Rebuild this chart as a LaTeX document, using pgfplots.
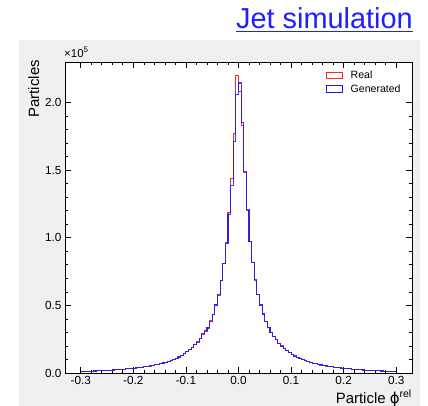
\documentclass[border=0pt]{standalone}
\usepackage{fontspec}
\setmainfont{Liberation Sans}
\newfontfamily\dejavu{DejaVu Sans}
\usepackage{pgfplots}
\pgfplotsset{compat=1.18}
\usetikzlibrary{calc}
\definecolor{panel}{rgb}{0.94,0.94,0.95}
\definecolor{titleblue}{rgb}{0.12,0.12,1}
\definecolor{hred}{rgb}{1,0.15,0.15}
\definecolor{hblue}{rgb}{0.1,0.1,1}

\pgfplotstableread{
x y
-0.300 0.010
-0.295 0.011
-0.290 0.012
-0.285 0.013
-0.280 0.014
-0.275 0.015
-0.270 0.016
-0.265 0.017
-0.260 0.018
-0.255 0.019
-0.250 0.020
-0.245 0.021
-0.240 0.022
-0.235 0.024
-0.230 0.025
-0.225 0.027
-0.220 0.028
-0.215 0.030
-0.210 0.032
-0.205 0.034
-0.200 0.036
-0.195 0.038
-0.190 0.041
-0.185 0.043
-0.180 0.046
-0.175 0.049
-0.170 0.052
-0.165 0.056
-0.160 0.060
-0.155 0.064
-0.150 0.068
-0.145 0.074
-0.140 0.080
-0.135 0.086
-0.130 0.093
-0.125 0.100
-0.120 0.108
-0.115 0.117
-0.110 0.130
-0.105 0.143
-0.100 0.157
-0.095 0.172
-0.090 0.190
-0.085 0.210
-0.080 0.232
-0.075 0.255
-0.070 0.285
-0.065 0.310
-0.060 0.337
-0.055 0.386
-0.050 0.435
-0.045 0.507
-0.040 0.576
-0.035 0.686
-0.030 0.810
-0.025 0.965
-0.020 1.185
-0.015 1.440
-0.010 1.770
-0.005 2.200
0.000 2.080
0.005 1.830
0.010 1.480
0.015 1.200
0.020 0.970
0.025 0.820
0.030 0.686
0.035 0.580
0.040 0.500
0.045 0.433
0.050 0.380
0.055 0.334
0.060 0.300
0.065 0.270
0.070 0.245
0.075 0.220
0.080 0.200
0.085 0.180
0.090 0.165
0.095 0.150
0.100 0.137
0.105 0.125
0.110 0.115
0.115 0.106
0.120 0.098
0.125 0.091
0.130 0.085
0.135 0.079
0.140 0.073
0.145 0.068
0.150 0.064
0.155 0.060
0.160 0.056
0.165 0.052
0.170 0.049
0.175 0.046
0.180 0.043
0.185 0.041
0.190 0.038
0.195 0.036
0.200 0.034
0.205 0.032
0.210 0.030
0.215 0.028
0.220 0.027
0.225 0.025
0.230 0.024
0.235 0.022
0.240 0.021
0.245 0.020
0.250 0.019
0.255 0.018
0.260 0.017
0.265 0.016
0.270 0.015
0.275 0.014
0.280 0.013
0.285 0.012
0.290 0.011
0.295 0.010
0.300 0.010
}\realdata

\pgfplotstableread{
x y
-0.300 0.010
-0.295 0.011
-0.290 0.012
-0.285 0.013
-0.280 0.014
-0.275 0.015
-0.270 0.016
-0.265 0.017
-0.260 0.018
-0.255 0.019
-0.250 0.020
-0.245 0.021
-0.240 0.022
-0.235 0.023
-0.230 0.025
-0.225 0.026
-0.220 0.028
-0.215 0.030
-0.210 0.032
-0.205 0.034
-0.200 0.036
-0.195 0.038
-0.190 0.040
-0.185 0.043
-0.180 0.046
-0.175 0.049
-0.170 0.053
-0.165 0.056
-0.160 0.060
-0.155 0.064
-0.150 0.069
-0.145 0.074
-0.140 0.080
-0.135 0.086
-0.130 0.093
-0.125 0.101
-0.120 0.109
-0.115 0.118
-0.110 0.129
-0.105 0.142
-0.100 0.156
-0.095 0.173
-0.090 0.191
-0.085 0.212
-0.080 0.228
-0.075 0.258
-0.070 0.290
-0.065 0.312
-0.060 0.333
-0.055 0.381
-0.050 0.432
-0.045 0.503
-0.040 0.578
-0.035 0.683
-0.030 0.812
-0.025 0.960
-0.020 1.170
-0.015 1.390
-0.010 1.710
-0.005 2.060
0.000 2.145
0.005 1.850
0.010 1.490
0.015 1.210
0.020 0.975
0.025 0.815
0.030 0.690
0.035 0.578
0.040 0.503
0.045 0.436
0.050 0.382
0.055 0.336
0.060 0.302
0.065 0.268
0.070 0.246
0.075 0.221
0.080 0.199
0.085 0.181
0.090 0.164
0.095 0.151
0.100 0.136
0.105 0.126
0.110 0.114
0.115 0.107
0.120 0.098
0.125 0.092
0.130 0.085
0.135 0.078
0.140 0.073
0.145 0.069
0.150 0.064
0.155 0.059
0.160 0.056
0.165 0.053
0.170 0.049
0.175 0.046
0.180 0.044
0.185 0.041
0.190 0.038
0.195 0.036
0.200 0.034
0.205 0.032
0.210 0.030
0.215 0.029
0.220 0.027
0.225 0.025
0.230 0.024
0.235 0.022
0.240 0.021
0.245 0.020
0.250 0.019
0.255 0.018
0.260 0.017
0.265 0.016
0.270 0.015
0.275 0.014
0.280 0.013
0.285 0.012
0.290 0.011
0.295 0.010
0.300 0.010
}\gendata

\begin{document}
\begin{tikzpicture}
\useasboundingbox (0bp,0bp) rectangle (428bp,-406bp);
\fill[panel] (19bp,-40bp) rectangle (420bp,-406bp);
\begin{axis}[
  at={(65bp,-373bp)}, anchor=south west,
  scale only axis, width=347bp, height=311bp,
  xmin=-0.33, xmax=0.33, ymin=0, ymax=2.3,
  axis background/.style={fill=white},
  axis line style={line width=0.8bp},
  every tick/.style={black, line width=0.7bp},
  tick align=inside, tick pos=both,
  xticklabel pos=lower, yticklabel pos=left,
  major tick length=6bp, minor tick length=3bp,
  xtick={-0.3,-0.2,-0.1,0,0.1,0.2,0.3},
  ytick={0,0.5,1,1.5,2},
  minor x tick num=4, minor y tick num=4,
  scaled ticks=false,
  ticklabel style={font=\fontsize{11.8}{13}\selectfont},
  /pgf/number format/.cd, fixed, fixed zerofill, precision=1, assume math mode=true,
  /pgfplots/.cd,
  legend style={draw=none, fill=none, at={(axis description cs:0.751,0.977)}, anchor=north west,
    inner sep=0pt, font=\fontsize{10.6}{12}\selectfont, row sep=1.5bp,
    nodes={inner sep=1.5bp}},
  legend cell align=left,
  legend image code/.code={\draw[#1, line width=0.8bp, opacity=1] (0bp,-3.2bp) rectangle (16.5bp,3.2bp);
     \path[draw=none, fill=none] (0bp,0bp) rectangle (23bp,0.1bp);},
]
\addplot[const plot, hred, line width=1.1bp] table[x=x,y=y] {\realdata};
\addlegendentry{Real}
\addplot[const plot, hblue, line width=1.1bp, opacity=0.85] table[x=x,y=y] {\gendata};
\addlegendentry{Generated}
\end{axis}
\node[anchor=base east, font=\fontsize{29}{31}\selectfont, text=titleblue, inner sep=0pt] (t) at (413bp,-28bp) {Jet simulation};
\draw[titleblue, line width=1.3bp] ([yshift=-3.5bp]t.base west) -- ([yshift=-3.5bp]t.base east);
\node[anchor=base east, font=\fontsize{15}{16}\selectfont, inner sep=0pt] at (412bp,-403bp) {Particle {\dejavu ϕ}\textsuperscript{rel}};
\node[rotate=90, anchor=base east, font=\fontsize{15}{16}\selectfont, inner sep=0pt] at (39bp,-60bp) {Particles};
\node[anchor=base west, font=\fontsize{11.5}{12}\selectfont, inner sep=0pt] at (64bp,-57bp) {×10\textsuperscript{5}};
\end{tikzpicture}
\end{document}
